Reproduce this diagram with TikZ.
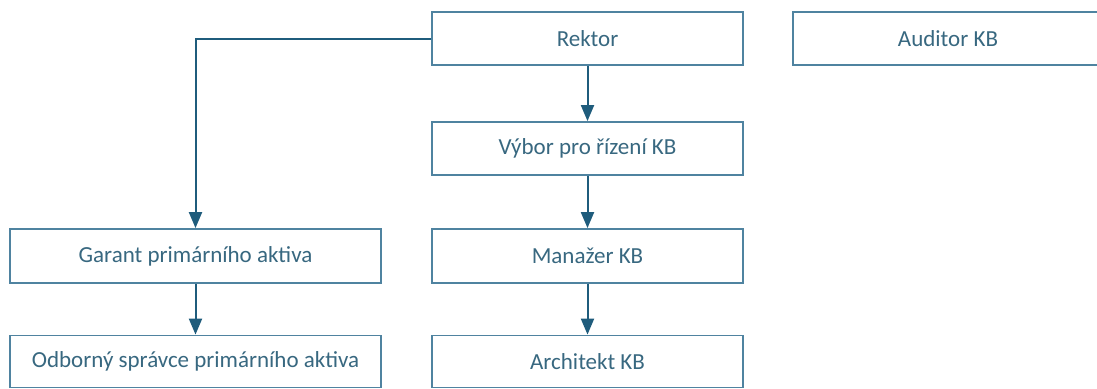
\documentclass[tikz,border=0pt]{standalone}
\usepackage{fontspec}
\setmainfont{Carlito}
\usetikzlibrary{arrows.meta}
\definecolor{boxc}{HTML}{4F83A0}
\definecolor{arrc}{HTML}{1F5C7C}
\definecolor{txtc}{HTML}{386880}
\begin{document}
\begin{tikzpicture}[x=1pt,y=-1pt,
  box/.style={draw=boxc,line width=1.8pt,fill=white,text=txtc,inner sep=0pt,
    font=\fontsize{23}{27}\selectfont},
  conn/.style={draw=arrc,line width=2pt,-{Triangle[length=16pt,width=13pt]}}]
\useasboundingbox (0,0) rectangle (1097,388);
\node[box,minimum width=311pt,minimum height=53pt] (rek) at (587.5,38.5) {Rektor};
\node[box,minimum width=330pt,minimum height=53pt] (aud) at (958,38.5) {\hspace*{-20pt}Auditor KB};
\node[box,minimum width=311pt,minimum height=53pt] (vyb) at (587.5,148.5) {Výbor pro řízení KB};
\node[box,minimum width=371pt,minimum height=54pt] (gar) at (195.5,256) {Garant primárního aktiva};
\node[box,minimum width=311pt,minimum height=54pt] (man) at (587.5,256) {Manažer KB};
\node[box,minimum width=371pt,minimum height=52pt] (odb) at (195.5,361.5) {Odborný správce primárního aktiva};
\node[box,minimum width=311pt,minimum height=52pt] (arc) at (587.5,361.5) {Architekt KB};
\draw[conn] (rek.south) -- (vyb.north);
\draw[conn] (vyb.south) -- (man.north);
\draw[conn] (man.south) -- (arc.north);
\draw[conn] (gar.south) -- (odb.north);
\draw[conn] (rek.west) -| (gar.north);
\end{tikzpicture}
\end{document}
